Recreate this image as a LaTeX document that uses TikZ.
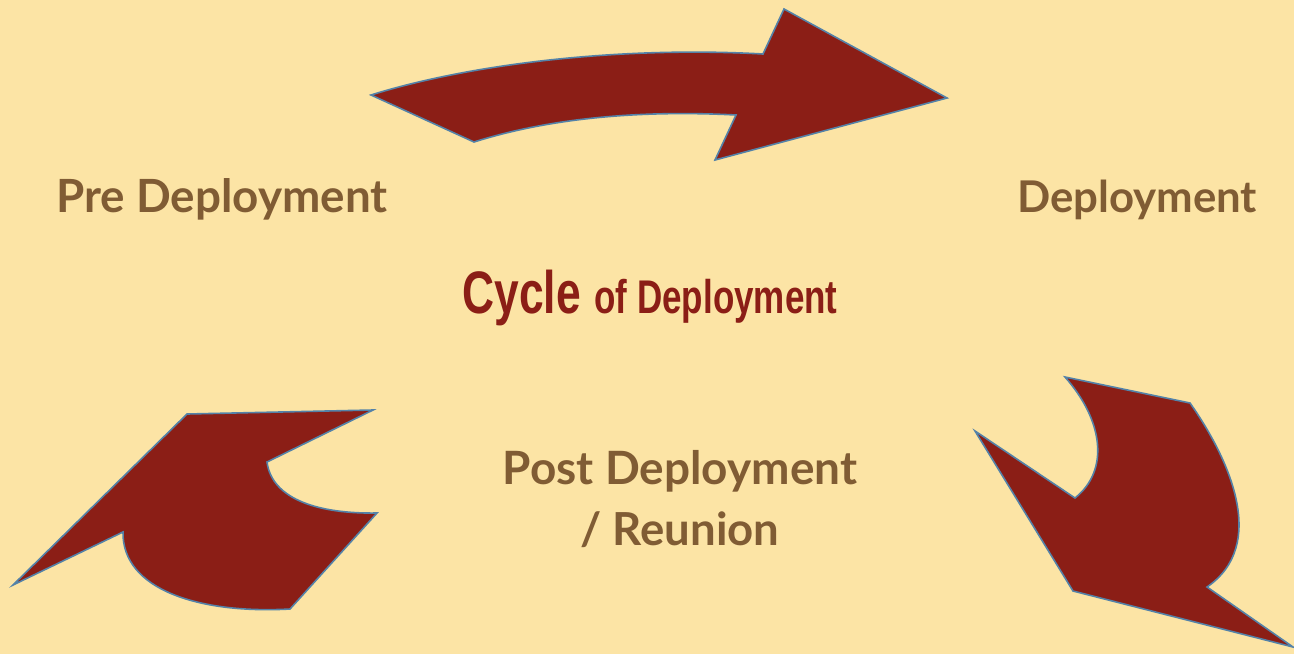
\documentclass[tikz,border=0pt]{standalone}
\usepackage{fontspec}
\setmainfont{Lato}
\newfontfamily\titlefont{Liberation Sans}
\definecolor{bgcol}{RGB}{252,228,165}
\definecolor{arrowfill}{RGB}{139,30,22}
\definecolor{arrowline}{RGB}{84,130,168}
\definecolor{labelcol}{RGB}{128,92,52}
\begin{document}
\begin{tikzpicture}[x=0.5pt,y=-0.5pt,
  bigarrow/.style={fill=arrowfill,draw=arrowline,line width=0.8pt,line join=miter},
  stagelabel/.style={text=labelcol,font=\bfseries,inner sep=0pt,anchor=base},
  titlelabel/.style={text=arrowfill,inner sep=0pt,anchor=base}]
\fill[bgcol] (0,0) rectangle (1294,654);
\useasboundingbox (0,0) rectangle (1294,654);
% top arrow
\draw[bigarrow] (371,95) .. controls (470,64) and (620,46) .. (763,54)
  -- (784,9) -- (947,98) -- (715,160) -- (736,115)
  .. controls (640,110) and (550,118) .. (474,142) -- cycle;
% bottom-left arrow
\draw[bigarrow] (13,585) -- (187,414) -- (373,410) -- (267,462)
  .. controls (272,500) and (320,514) .. (377,513)
  -- (290,609)
  .. controls (200,614) and (122,590) .. (123,532) -- cycle;
% bottom-right arrow
\draw[bigarrow] (1065,377) -- (1190,403)
  .. controls (1230,460) and (1268,545) .. (1207,587)
  -- (1293,647) -- (1073,591) -- (975,431) -- (1075,498)
  .. controls (1110,470) and (1103,420) .. cycle;
% labels
\node[stagelabel] (pre) at (222,212) {\resizebox{165.5pt}{!}{Pre Deployment}};
\node[stagelabel] (dep) at (1137,212) {\resizebox{120pt}{!}{Deployment}};
\node[stagelabel] (post) at (680,484) {\resizebox{177pt}{!}{Post Deployment}};
\node[stagelabel] (reu) at (680,545) {\resizebox{99.5pt}{!}{/ Reunion}};
\node[titlelabel] (title) at (650,313) {\resizebox{187.5pt}{!}{\titlefont\bfseries\scalebox{0.74}[1]{{\fontsize{26}{30}\selectfont Cycle}\hspace{8pt}{\fontsize{20.5}{24}\selectfont of Deployment}}}};
\end{tikzpicture}
\end{document}
